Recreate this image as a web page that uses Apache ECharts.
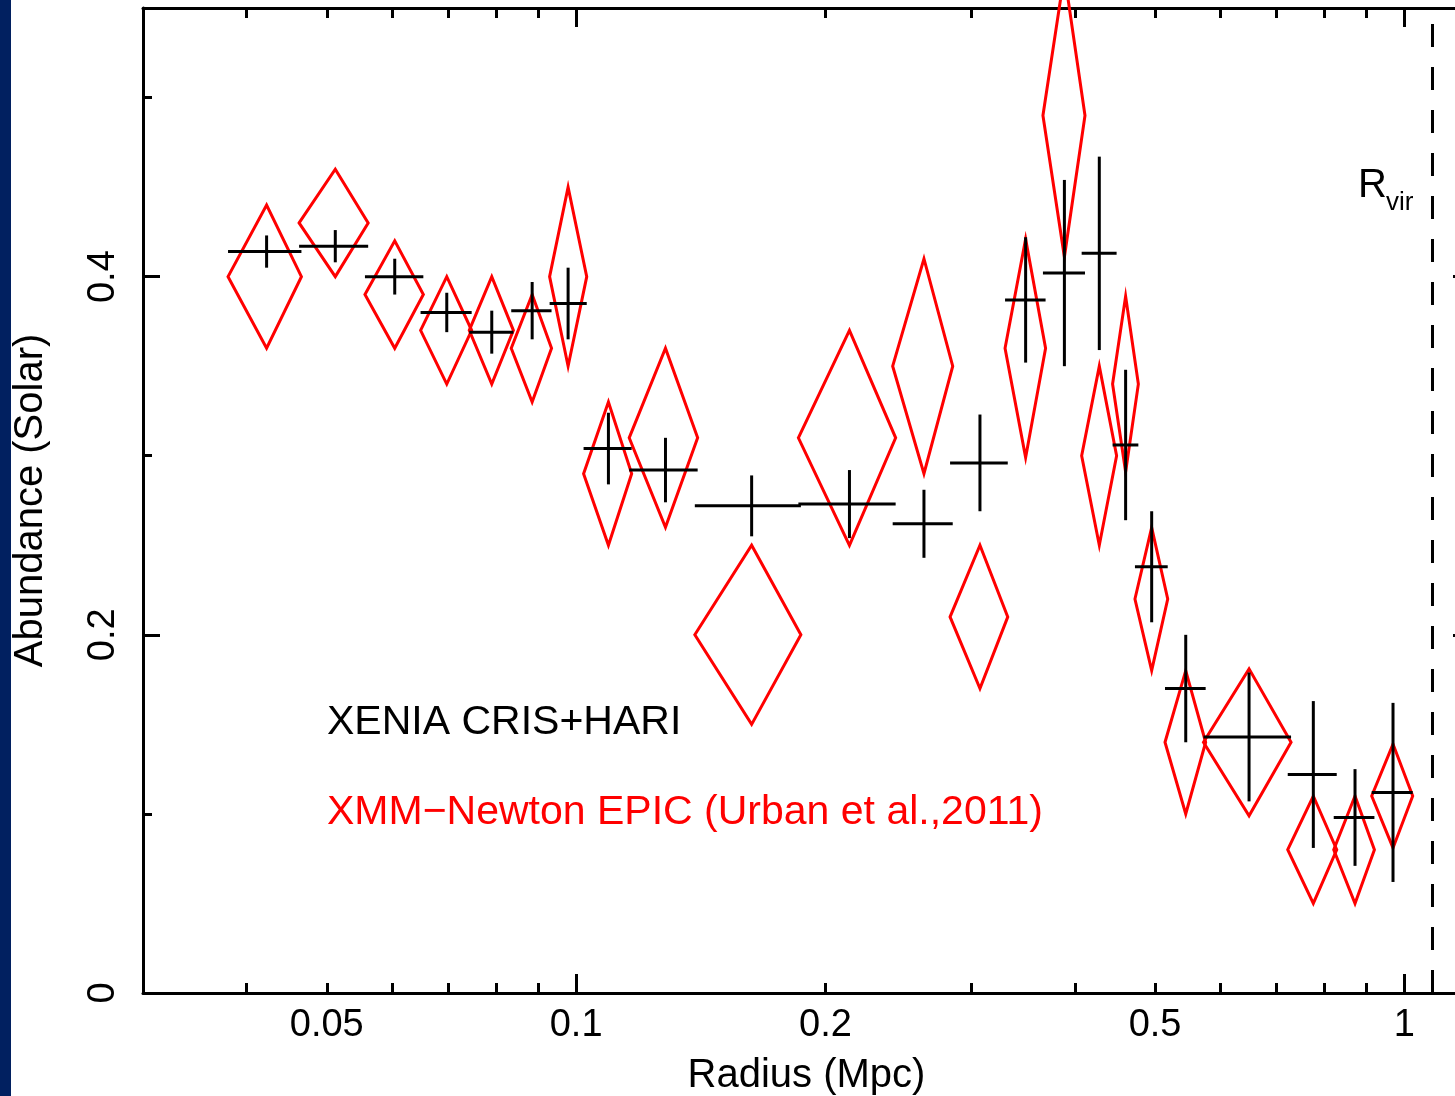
<!DOCTYPE html>
<html><head><meta charset="utf-8">
<script src="https://cdn.jsdelivr.net/npm/echarts@6/dist/echarts.min.js"></script>
<style>html,body{margin:0;padding:0;background:#fff;overflow:hidden}#c{width:1455px;height:1096px}</style>
</head><body><div id="c"></div>
<script>
// Radial bins (Mpc): lower edge, marker position, upper edge
const radiusLo  = [0.0380,0.0463,0.0556,0.0649,0.0743,0.0835,0.0929,0.1021,0.1159,0.1391,0.1855,0.2411,0.2828,0.3295,0.3661,0.4077,0.4443,0.4728,0.5140,0.5720,0.7230,0.8216,0.9131];
const radiusMid = [0.0423,0.0512,0.0604,0.0698,0.0791,0.0885,0.0978,0.1094,0.1282,0.1629,0.2138,0.2630,0.3073,0.3489,0.3886,0.4282,0.4607,0.4953,0.5445,0.6493,0.7763,0.8717,0.9688];
const radiusHi  = [0.0466,0.0561,0.0654,0.0748,0.0840,0.0934,0.1030,0.1167,0.1402,0.1868,0.2431,0.2849,0.3320,0.3688,0.4115,0.4493,0.4773,0.5179,0.5755,0.7297,0.8285,0.9200,1.0233];
// XENIA CRIS+HARI abundance and error
const xeniaAbund = [0.414,0.417,0.400,0.380,0.369,0.381,0.385,0.304,0.292,0.272,0.273,0.262,0.296,0.387,0.402,0.413,0.306,0.238,0.170,0.143,0.122,0.098,0.112];
const xeniaErr   = [0.009,0.009,0.010,0.011,0.012,0.016,0.020,0.020,0.018,0.017,0.019,0.019,0.027,0.035,0.052,0.054,0.042,0.031,0.030,0.036,0.041,0.027,0.050];
// XMM-Newton EPIC abundance and error
const xmmAbund = [0.400,0.430,0.390,0.370,0.370,0.360,0.400,0.290,0.310,0.200,0.310,0.350,0.210,0.360,0.490,0.300,0.340,0.220,0.140,0.140,0.080,0.080,0.110];
const xmmErr   = [0.040,0.030,0.030,0.030,0.030,0.030,0.050,0.040,0.050,0.050,0.060,0.060,0.040,0.061,0.079,0.050,0.049,0.040,0.040,0.041,0.030,0.030,0.029];
const rVir = 1.08;
// Ticks
const xMinorTicks = [0.04,0.05,0.06,0.07,0.08,0.09,0.2,0.3,0.4,0.5,0.6,0.7,0.8,0.9];
const xMajorTicks = [0.1,1];
const xTickLabels = [0.05,0.1,0.2,0.5,1];
const yMinorTicks = [0.1,0.3,0.5];
const yMajorTicks = [0.2,0.4];
const yTickLabels = [0,0.2,0.4];

const FONT = '"Liberation Sans", Arial, Helvetica, sans-serif';
const RED = '#ff0000';

const chart = echarts.init(document.getElementById('c'), null, {renderer:'canvas'});

function xAx(pos, ticks, len, labels, showLine, name) {
  const a = {
    type:'log', logBase:10, min:0.03, max:1.2, position:pos,
    axisLine:{show:showLine, onZero:false, lineStyle:{color:'#000', width:3}},
    axisTick:{show:true, inside:true, length:len, customValues:ticks, lineStyle:{color:'#000', width:3}},
    axisLabel:{show:!!labels},
    splitLine:{show:false}, minorTick:{show:false}, minorSplitLine:{show:false}
  };
  if (labels) {
    a.axisLabel = {show:true, customValues:labels, margin:14, color:'#000', fontSize:38, fontFamily:FONT,
      formatter: v => String(+(+v).toPrecision(6))};
  }
  if (name) {
    a.name = name; a.nameLocation = 'middle'; a.nameGap = 63;
    a.nameTextStyle = {color:'#000', fontSize:40, fontFamily:FONT};
  }
  return a;
}
function yAx(pos, ticks, len, labels, showLine, name) {
  const a = {
    type:'value', min:0, max:0.55, position:pos,
    axisLine:{show:showLine, onZero:false, lineStyle:{color:'#000', width:3}},
    axisTick:{show:true, inside:true, length:len, customValues:ticks, lineStyle:{color:'#000', width:3}},
    axisLabel:{show:!!labels},
    splitLine:{show:false}
  };
  if (labels) {
    a.axisLabel = {show:true, customValues:labels, rotate:90, margin:20, color:'#000', fontSize:38, fontFamily:FONT,
      formatter: v => String(+(+v).toPrecision(6))};
  }
  if (name) {
    a.name = name; a.nameLocation = 'middle'; a.nameGap = 92;
    a.nameTextStyle = {color:'#000', fontSize:40, fontFamily:FONT};
  }
  return a;
}

const xeniaData = radiusMid.map((r,i) => [r, xeniaAbund[i], radiusLo[i], radiusHi[i], xeniaErr[i]]);
const xmmData   = radiusMid.map((r,i) => [r, xmmAbund[i], radiusLo[i], radiusHi[i], xmmErr[i]]);

function renderCross(params, api) {
  const m = api.value(0), z = api.value(1), lo = api.value(2), hi = api.value(3), e = api.value(4);
  const L = api.coord([lo, z]), R = api.coord([hi, z]), T = api.coord([m, z + e]), B = api.coord([m, z - e]);
  const st = {stroke:'#000', lineWidth:3, fill:null};
  return {type:'group', children:[
    {type:'line', shape:{x1:L[0], y1:L[1], x2:R[0], y2:R[1]}, style:st},
    {type:'line', shape:{x1:T[0], y1:T[1], x2:B[0], y2:B[1]}, style:st}
  ]};
}
function renderDiamond(params, api) {
  const m = api.value(0), z = api.value(1), lo = api.value(2), hi = api.value(3), e = api.value(4);
  const L = api.coord([lo, z]), R = api.coord([hi, z]), T = api.coord([m, z + e]), B = api.coord([m, z - e]);
  return {type:'polygon', shape:{points:[L, T, R, B]}, style:{stroke:RED, lineWidth:3, fill:'none', lineJoin:'miter'}};
}

chart.setOption({
  backgroundColor:'#fff',
  animation:false,
  grid:{left:143, top:8, width:1327, height:985, containLabel:false, outerBoundsMode:'none'},
  xAxis:[
    xAx('bottom', xMinorTicks, 10, xTickLabels, true, 'Radius (Mpc)'),
    xAx('bottom', xMajorTicks, 19, null, false),
    xAx('top', xMinorTicks, 10, null, true),
    xAx('top', xMajorTicks, 19, null, false)
  ],
  yAxis:[
    yAx('left', yMinorTicks, 9, yTickLabels, true, 'Abundance (Solar)'),
    yAx('left', yMajorTicks, 17, null, false),
    yAx('right', yMinorTicks, 9, null, true),
    yAx('right', yMajorTicks, 17, null, false)
  ],
  series:[
    {type:'custom', name:'XMM-Newton EPIC', xAxisIndex:0, yAxisIndex:0, clip:false,
     encode:{x:0, y:1}, renderItem:renderDiamond, data:xmmData, z:2},
    {type:'custom', name:'XENIA CRIS+HARI', xAxisIndex:0, yAxisIndex:0, clip:false,
     encode:{x:0, y:1}, renderItem:renderCross, data:xeniaData, z:3,
     markLine:{silent:true, symbol:['none','none'], label:{show:false},
       lineStyle:{color:'#000', width:3, type:[23,20]},
       data:[{xAxis:rVir}]}}
  ],
  graphic:[
    {type:'rect', left:0, top:0, shape:{width:11, height:1096}, style:{fill:'#012060'}},
    {type:'text', x:327, y:723, style:{text:'XENIA CRIS+HARI', fill:'#000', font:'41px ' + FONT, verticalAlign:'middle', align:'left'}},
    {type:'text', x:327, y:813, style:{text:'XMM\u2212Newton EPIC (Urban et al.,2011)', fill:RED, font:'41px ' + FONT, verticalAlign:'middle', align:'left'}},
    {type:'text', x:1358, y:186, style:{text:'R', fill:'#000', font:'40px ' + FONT, verticalAlign:'middle', align:'left'}},
    {type:'text', x:1386, y:203, style:{text:'vir', fill:'#000', font:'26px ' + FONT, verticalAlign:'middle', align:'left'}}
  ]
});
</script></body></html>
